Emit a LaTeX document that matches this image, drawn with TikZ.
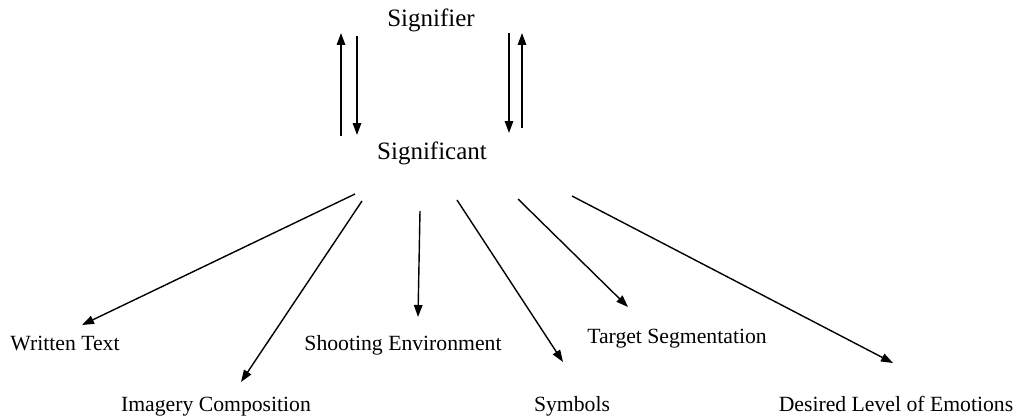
\documentclass[tikz,border=0pt]{standalone}
\usepackage{fontspec}
\setmainfont{Liberation Serif}
\usetikzlibrary{arrows.meta}
\begin{document}
\begin{tikzpicture}[x=1pt,y=-1pt,
  bigtext/.style={anchor=base,inner sep=0pt,font=\fontsize{25}{28}\selectfont},
  leaf/.style={anchor=base,inner sep=0pt,font=\fontsize{21.7}{24}\selectfont},
  conn/.style={line width=1.4pt,-{Triangle[length=12pt,width=8.5pt]}}]
  \useasboundingbox (0,0) rectangle (1018,420);

  % main labels
  \node[bigtext] (sgr) at (431,27) {Signifier};
  \node[bigtext] (sgt) at (432,159) {Significant};

  % outcome labels
  \node[leaf] (wt) at (65,350) {Written Text};
  \node[leaf] (ic) at (216,411) {Imagery Composition};
  \node[leaf] (se) at (403,350) {Shooting Environment};
  \node[leaf] (sy) at (572,411) {Symbols};
  \node[leaf] (ts) at (677,343) {Target Segmentation};
  \node[leaf] (de) at (896,411) {Desired Level of Emotions};

  % end points of the two-way links
  \coordinate (l1a) at (341,136); \coordinate (l1b) at (341,33);
  \coordinate (l2a) at (357,36);  \coordinate (l2b) at (357,135);
  \coordinate (r1a) at (509,33);  \coordinate (r1b) at (509,133);
  \coordinate (r2a) at (522,128); \coordinate (r2b) at (522,33);

  \draw[conn] (l1a) -- (l1b);
  \draw[conn] (l2a) -- (l2b);
  \draw[conn] (r1a) -- (r1b);
  \draw[conn] (r2a) -- (r2b);

  % fan-out arrows from Significant
  \coordinate (wt0) at (355,194); \coordinate (wt1) at (82,325);
  \coordinate (ic0) at (362,201); \coordinate (ic1) at (241,382);
  \coordinate (se0) at (420,211); \coordinate (se1) at (418,317);
  \coordinate (sy0) at (457,200); \coordinate (sy1) at (563,362);
  \coordinate (ts0) at (518,199); \coordinate (ts1) at (628,307);
  \coordinate (de0) at (572,196); \coordinate (de1) at (893,363);

  \draw[conn] (wt0) -- (wt1);
  \draw[conn] (ic0) -- (ic1);
  \draw[conn] (se0) -- (se1);
  \draw[conn] (sy0) -- (sy1);
  \draw[conn] (ts0) -- (ts1);
  \draw[conn] (de0) -- (de1);
\end{tikzpicture}
\end{document}
